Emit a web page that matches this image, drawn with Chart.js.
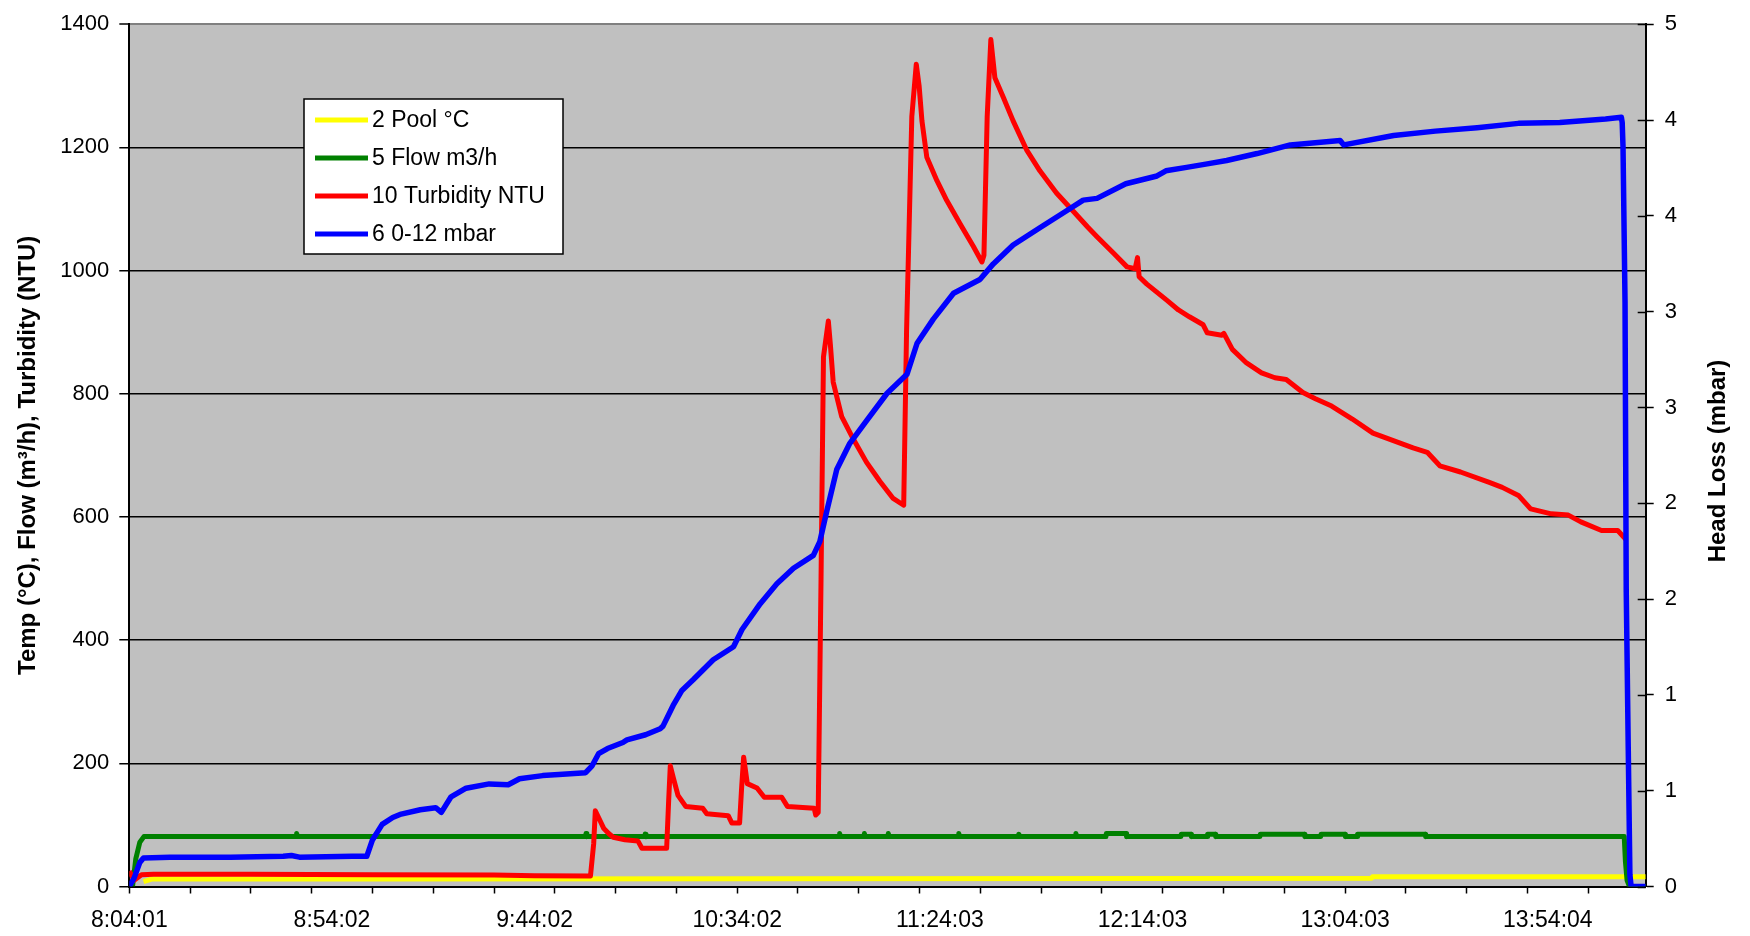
<!DOCTYPE html>
<html>
<head>
<meta charset="utf-8">
<script src="https://cdn.jsdelivr.net/npm/chart.js@4.4.1/dist/chart.umd.min.js"></script>
<style>
  html, body { margin: 0; padding: 0; background: #fff; }
  #wrap { width: 1750px; height: 936px; }
</style>
</head>
<body>
<div id="wrap"><canvas id="c" width="1750" height="936"></canvas></div>
<script>
// x axis: clock labels, first one is the start of the log
const timeLabels = ["8:04:01", "8:54:02", "9:44:02", "10:34:02", "11:24:03", "12:14:03", "13:04:03", "13:54:04"];
const runLength = 374.2;   // minutes covered by the x axis
const minorStep = 15;      // tick marks every 15 min

// right axis labels (Excel shows the 9 divisions rounded)
const headTickLabels = ["0", "1", "1", "2", "2", "3", "3", "4", "4", "5"];

// 2 Pool °C   (time in minutes from 8:04:01)
const poolT = [3.5, 5.5, 60, 150, 250, 306.6, 306.8, 374.2];
const poolC = [8, 12, 12, 12.5, 13, 13.5, 16, 16];

// 5 Flow m3/h
const flowT = [0.8, 1.6, 2.6, 3.6, 41.2, 41.3, 41.5, 112.6, 112.7, 112.9,
  127.2, 127.3, 127.5, 175.2, 175.3, 175.5, 181.3, 181.4, 181.6, 187.2,
  187.3, 187.5, 204.6, 204.7, 204.9, 219.4, 219.5, 219.7, 233.5, 233.6,
  233.8, 241, 241.1, 246, 246.1, 259.5, 259.6, 262, 262.1, 266,
  266.1, 268, 268.1, 279, 279.1, 290, 290.1, 294, 294.1, 300,
  300.1, 303, 303.1, 319.8, 319.9, 368.9, 369.2, 369.6, 370.2, 374.2];
const flowV = [0, 45, 72, 81, 81, 86, 81, 81, 86, 81,
  81, 85, 81, 81, 86, 81, 81, 86, 81, 81,
  86, 81, 81, 86, 81, 81, 85, 81, 81, 86,
  81, 81, 86, 86, 81, 81, 85, 85, 81, 81,
  85, 85, 81, 81, 85, 85, 81, 81, 85, 85,
  81, 81, 85, 85, 81, 81, 40, 10, 0, 0];

// 10 Turbidity NTU
const turbT = [0, 1.2, 3, 6, 30, 60, 90, 100, 113.8, 114.6,
  115.0, 115.8, 117.1, 118.3, 119.4, 122.3, 125.5, 126.5, 132.6, 133.1,
  133.5, 134.3, 135.4, 137.3, 141.5, 142.5, 147.8, 148.7, 150.6, 151.1,
  151.6, 152.5, 154.9, 156.7, 161.0, 162.4, 169.0, 169.4, 170.0, 170.7,
  171.3, 172.5, 173.0, 173.7, 175.8, 178.7, 181.9, 185.2, 188.5, 191.1,
  191.8, 193.1, 194.2, 194.9, 195.6, 196.8, 199.3, 201.7, 205.0, 208.3,
  210.4, 210.9, 211.7, 212.6, 213.6, 215.7, 218.1, 221.5, 224.7, 228.8,
  233.0, 236.6, 238.8, 242.9, 246.2, 248.2, 248.8, 249.2, 251.1, 256.0,
  258.9, 261.6, 265.0, 266.0, 269.6, 270.1, 272.2, 275.7, 279.4, 282.7,
  285.5, 289.6, 292.7, 296.7, 301.8, 306.9, 313.1, 316.8, 320.3, 323.4,
  328.5, 335.6, 338.8, 342.8, 345.8, 350.9, 355.1, 358.2, 363.3, 367.3,
  369.4];
const turbNTU = [25, 10, 19, 20, 20, 19, 18.5, 17.5, 17, 70,
  123, 112, 94, 86, 80, 76, 74, 62, 62, 140,
  196, 175, 148, 130, 127, 118, 115, 103, 103, 160,
  210, 167, 160, 145, 145, 130, 127, 116, 120, 500,
  860, 918, 880, 819, 763, 726, 689, 658, 630, 619,
  900, 1250, 1335, 1300, 1243, 1184, 1146, 1114, 1076, 1039,
  1014, 1025, 1250, 1375, 1313, 1281, 1243, 1195, 1162, 1126,
  1096, 1070, 1055, 1028, 1006, 1003, 1021, 990, 978, 952,
  936, 925, 912, 899, 895, 898, 872, 850, 834, 826,
  823, 802, 792, 780, 759, 736, 721, 712, 705, 683,
  673, 656, 648, 635, 613, 605, 603, 592, 578, 578,
  563];

// 6 0-12 mbar (head loss, right axis)
const headT = [0, 1.2, 2.6, 3.5, 10, 25, 38, 40, 42, 55,
  58.6, 60, 62.4, 65, 67.1, 71.8, 75.6, 77, 79.4, 83.1,
  88.8, 93.5, 96.3, 102, 106, 112.6, 114.2, 115.8, 118, 121.8,
  122.8, 127.4, 131, 131.7, 134.2, 136.3, 139.2, 144.1, 149.1, 151.2,
  155.7, 159.8, 163.9, 168.8, 170.4, 172.1, 174.6, 177.8, 181.9, 187,
  191.9, 194.4, 198.4, 203.4, 209.9, 213.2, 218.1, 224.7, 231.4, 235.4,
  238.8, 245.9, 253.6, 255.8, 260.9, 266, 270.8, 278.3, 286.5, 298.8,
  299.7, 312, 322.3, 332.6, 342.8, 353, 364.3, 368.2, 368.4, 368.6,
  369.1, 369.4, 369.9, 370.3, 370.6, 374.2];
const headMbar = [0, 0.05, 0.14, 0.165, 0.17, 0.17, 0.175, 0.18, 0.17, 0.175,
  0.175, 0.27, 0.36, 0.40, 0.42, 0.445, 0.457, 0.43, 0.52, 0.57,
  0.595, 0.59, 0.625, 0.643, 0.65, 0.66, 0.70, 0.77, 0.80, 0.835,
  0.85, 0.88, 0.915, 0.93, 1.05, 1.135, 1.20, 1.315, 1.39, 1.49,
  1.64, 1.755, 1.845, 1.92, 2.0, 2.175, 2.42, 2.57, 2.70, 2.86,
  2.97, 3.15, 3.29, 3.44, 3.52, 3.61, 3.72, 3.82, 3.92, 3.98,
  3.99, 4.075, 4.12, 4.15, 4.17, 4.19, 4.21, 4.25, 4.30, 4.325,
  4.30, 4.355, 4.38, 4.40, 4.425, 4.43, 4.45, 4.46, 4.43, 4.29,
  3.39, 1.71, 0.79, 0.07, 0, 0];

const FONT = '"Liberation Sans", Arial, sans-serif';

const pairs = (xs, ys) => xs.map((x, i) => ({ x: x, y: ys[i] }));

// minutes since first label
const toMin = s => { const p = s.split(':').map(Number); return p[0] * 60 + p[1] + p[2] / 60; };
const start = toMin(timeLabels[0]);
const labelPos = {};
timeLabels.forEach(l => { labelPos[(toMin(l) - start).toFixed(3)] = l; });

const minorTicks = [];
for (let m = 0; m <= runLength; m += minorStep) minorTicks.push(m);
const xTicks = Array.from(new Set(minorTicks.map(v => v.toFixed(3)).concat(Object.keys(labelPos))))
  .map(Number).sort((a, b) => a - b);
const isMinor = v => Math.abs(v / minorStep - Math.round(v / minorStep)) < 1e-6;

const headTicks = headTickLabels.map((l, i) => 5 * i / (headTickLabels.length - 1));

// grey plot background
const plotBg = {
  id: 'plotBg',
  beforeDraw(chart) {
    const { ctx, chartArea: a } = chart;
    ctx.save();
    ctx.fillStyle = '#c0c0c0';
    ctx.fillRect(a.left, a.top, a.right - a.left, a.bottom - a.top);
    ctx.restore();
  }
};

// right axis title (bottom-to-top), inner tick halves, boxed legend
const extras = {
  id: 'extras',
  afterDraw(chart) {
    const { ctx, chartArea: a, scales } = chart;
    ctx.save();
    ctx.strokeStyle = '#000';
    ctx.lineWidth = 1.5;
    scales.y1.ticks.forEach(t => {
      const y = Math.round(scales.y1.getPixelForValue(t.value)) + 0.5;
      ctx.beginPath(); ctx.moveTo(a.right - 8, y); ctx.lineTo(a.right, y); ctx.stroke();
    });
    ctx.restore();

    ctx.save();
    ctx.translate(1718, 461);
    ctx.rotate(-Math.PI / 2);
    ctx.font = 'bold 24px ' + FONT;
    ctx.fillStyle = '#000';
    ctx.textAlign = 'center';
    ctx.textBaseline = 'middle';
    ctx.fillText('Head Loss (mbar)', 0, 0);
    ctx.restore();

    // legend
    const bx = 304, by = 99, bw = 259, bh = 155;
    ctx.save();
    ctx.fillStyle = '#fff';
    ctx.fillRect(bx, by, bw, bh);
    ctx.strokeStyle = '#000';
    ctx.lineWidth = 1.5;
    ctx.strokeRect(bx, by, bw, bh);
    ctx.font = '23px ' + FONT;
    ctx.textBaseline = 'middle';
    ctx.textAlign = 'left';
    chart.data.datasets.forEach((ds, i) => {
      const y = 120 + i * 38;
      ctx.strokeStyle = ds.borderColor;
      ctx.lineWidth = 5;
      ctx.beginPath(); ctx.moveTo(315, y); ctx.lineTo(368, y); ctx.stroke();
      ctx.fillStyle = '#000';
      ctx.fillText(ds.label, 372, y + 1);
    });
    ctx.restore();
  }
};

new Chart(document.getElementById('c'), {
  type: 'line',
  data: {
    datasets: [
      { label: '2 Pool °C', data: pairs(poolT, poolC), borderColor: '#ffff00', yAxisID: 'y', order: 4 },
      { label: '5 Flow m3/h', data: pairs(flowT, flowV), borderColor: '#008000', yAxisID: 'y', order: 3 },
      { label: '10 Turbidity NTU', data: pairs(turbT, turbNTU), borderColor: '#ff0000', yAxisID: 'y', order: 2 },
      { label: '6 0-12 mbar', data: pairs(headT, headMbar), borderColor: '#0000ff', yAxisID: 'y1', order: 1, borderWidth: 5.5 }
    ]
  },
  options: {
    responsive: false,
    animation: false,
    devicePixelRatio: 1,
    layout: { padding: { left: 0, right: 0, top: 19.5, bottom: 0 } },
    elements: {
      line: { borderWidth: 5, tension: 0, borderJoinStyle: 'round', fill: false },
      point: { radius: 0 }
    },
    plugins: { legend: { display: false }, tooltip: { enabled: false } },
    scales: {
      x: {
        type: 'linear',
        min: 0,
        max: runLength,
        afterBuildTicks: s => { s.ticks = xTicks.map(v => ({ value: v })); },
        afterFit: s => { s.height = 49.5; },
        ticks: {
          autoSkip: false, maxRotation: 0, minRotation: 0, padding: 13,
          color: '#000', font: { family: FONT, size: 23 },
          callback: v => labelPos[Number(v).toFixed(3)] || ''
        },
        grid: {
          drawOnChartArea: false, drawTicks: true, tickLength: 7, tickWidth: 1.5,
          tickColor: c => (c.tick && !isMinor(c.tick.value)) ? 'rgba(0,0,0,0)' : '#000'
        },
        border: { color: '#000', width: 2 }
      },
      y: {
        position: 'left',
        min: 0,
        max: 1400,
        afterFit: s => { s.width = 129.3; },
        ticks: {
          stepSize: 200, padding: 10, color: '#000', font: { family: FONT, size: 22 },
          callback: v => String(v)
        },
        grid: {
          color: c => (c.tick && c.tick.value === 1400) ? '#808080' : '#000',
          lineWidth: c => (c.tick && c.tick.value === 1400) ? 2 : 1.5,
          tickColor: '#000', tickLength: 10, tickWidth: 1.5
        },
        border: { color: '#000', width: 2 },
        title: {
          display: true,
          text: 'Temp (°C), Flow (m³/h), Turbidity (NTU)',
          color: '#000',
          font: { family: FONT, size: 24, weight: 'bold' },
          padding: { top: 14, bottom: 0 }
        }
      },
      y1: {
        position: 'right',
        min: 0,
        max: 5,
        afterBuildTicks: s => { s.ticks = headTicks.map(v => ({ value: v })); },
        afterFit: s => { s.width = 104.3; },
        ticks: {
          padding: 11, color: '#000', font: { family: FONT, size: 22 },
          callback: (v, i) => headTickLabels[i]
        },
        grid: { drawOnChartArea: false, tickLength: 8, tickColor: '#000', tickWidth: 1.5 },
        border: { color: '#000', width: 2 }
      }
    }
  },
  plugins: [plotBg, extras]
});
</script>
</body>
</html>
